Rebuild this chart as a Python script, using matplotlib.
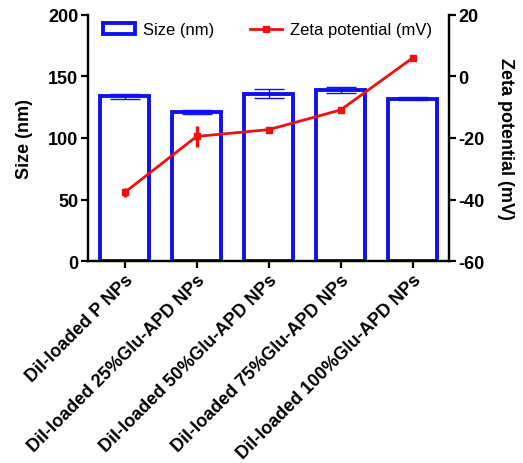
import matplotlib
matplotlib.use("Agg")
import matplotlib.pyplot as plt
from matplotlib.lines import Line2D
import numpy as np

categories = ["DiI-loaded P NPs", "DiI-loaded 25%Glu-APD NPs", "DiI-loaded 50%Glu-APD NPs",
              "DiI-loaded 75%Glu-APD NPs", "DiI-loaded 100%Glu-APD NPs"]
size_nm = [134, 121, 136, 139, 132]
size_err = [2, 1.5, 3.5, 2.5, 1.5]
zeta_mv = [-37.7, -19.5, -17.3, -10.9, 6.0]
zeta_err = [1.5, 3.4, 1.0, 0.8, 0.5]

plt.rcParams['font.family'] = ['Liberation Sans', 'DejaVu Sans']
plt.rcParams['axes.unicode_minus'] = False

fig = plt.figure(figsize=(5.23, 4.64), dpi=100)
ax = fig.add_axes([0.168, 0.435, 0.690, 0.531])
x = np.arange(len(categories))

blue = '#1010ee'
red = '#ee1111'
bars = ax.bar(x, size_nm, width=0.68, facecolor='white', edgecolor=blue, linewidth=2.8,
              label='Size (nm)', zorder=2)
ax.errorbar(x, size_nm, yerr=size_err, fmt='none', ecolor=blue, elinewidth=1.0,
            capsize=11, capthick=1.0, zorder=3)
ax.set_xlim(-0.51, 4.5)
ax.set_ylim(0, 200)
ax.set_yticks([0, 50, 100, 150, 200])
ax.set_xticks(x)
ax.set_xticklabels(categories, rotation=45, ha='right', rotation_mode='anchor',
                   fontsize=13, fontweight='bold')
ax.set_ylabel('Size (nm)', fontsize=13, fontweight='bold', labelpad=11)

ax2 = ax.twinx()
ax2.errorbar(x, zeta_mv, yerr=zeta_err, fmt='none', ecolor=red, elinewidth=2.5,
             capsize=0, zorder=4)
ax2.plot(x, zeta_mv, color=red, linewidth=2.0, marker='s', markersize=5, zorder=5)
ax2.set_ylim(-60, 20)
ax2.set_yticks([-60, -40, -20, 0, 20])
ax2.set_ylabel('Zeta potential (mV)', fontsize=13, fontweight='bold', rotation=270,
               labelpad=21)

for a in (ax, ax2):
    for s in a.spines.values():
        s.set_linewidth(1.6)
    a.spines['top'].set_visible(False)
    a.tick_params(width=1.6, length=5, labelsize=13, direction='out', pad=2)
    for lab in a.get_yticklabels():
        lab.set_fontweight('bold')

h_bar = bars
h_line = Line2D([], [], color=red, linewidth=2.0, marker='s', markersize=4)
ax2.legend([h_bar, h_line], ['Size (nm)', 'Zeta potential (mV)'], loc='upper left', ncol=2,
           frameon=False, fontsize=12, bbox_to_anchor=(0.0, 1.03), columnspacing=2.15,
           handlelength=1.9, handletextpad=0.5)

fig.savefig('out.png', dpi=100)
